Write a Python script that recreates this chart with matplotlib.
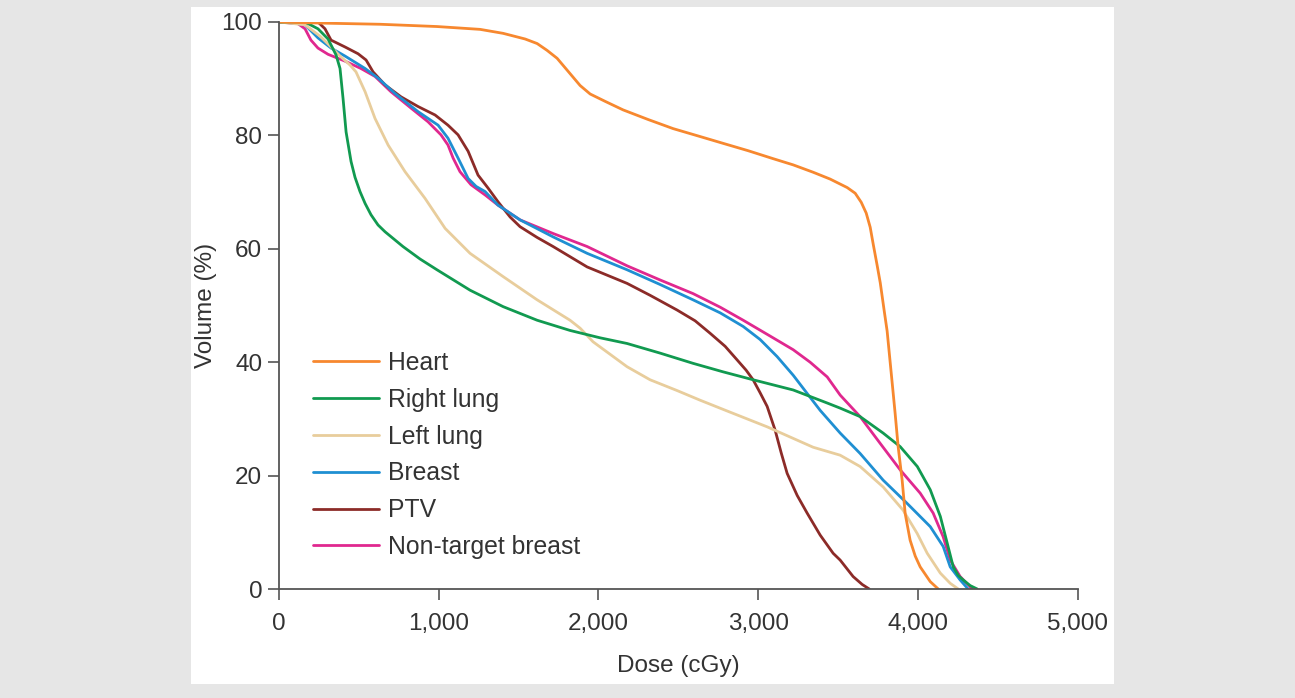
import numpy as np
import matplotlib
matplotlib.use('Agg')
import matplotlib.pyplot as plt
from matplotlib.patches import Rectangle

plt.rcParams['font.family'] = ['Liberation Sans', 'DejaVu Sans']

# dose (cGy) / volume (%) points
heart_dose = [0, 276, 633, 989, 1259, 1403, 1541, 1616, 1678, 1741, 1822, 1885, 1948, 2042, 2154,
              2311, 2467, 2624, 2780, 2937, 3093, 3219, 3344, 3450, 3557, 3607, 3645, 3676, 3701,
              3720, 3745, 3764, 3789, 3807, 3826, 3845, 3857, 3876, 3901, 3920, 3951, 3983, 4014,
              4077, 4127]
heart_vol = [100, 99.8, 99.6, 99.2, 98.7, 98.0, 97.0, 96.2, 95.0, 93.6, 90.9, 88.8, 87.3, 86.0, 84.5,
             82.8, 81.2, 79.9, 78.6, 77.3, 75.9, 74.8, 73.5, 72.3, 70.8, 69.8, 68.2, 66.3, 63.8,
             60.8, 57.0, 54.0, 49.0, 45.5, 40.0, 34.5, 31.0, 25.1, 19.2, 13.3, 8.6, 5.8, 3.9,
             1.3, 0]

rlung_dose = [0, 163, 244, 307, 357, 382, 401, 420, 451, 476, 507, 539, 576, 620, 664, 776, 883,
              989, 1196, 1403, 1616, 1822, 2010, 2179, 2386, 2592, 2780, 2968, 3219, 3432, 3513,
              3638, 3782, 3889, 3996, 4077, 4140, 4183, 4221, 4252, 4283, 4327, 4371]
rlung_vol = [100, 100, 98.8, 97.0, 94.2, 91.8, 86.5, 80.6, 75.4, 72.6, 70.1, 68.0, 66.0, 64.2, 63.0,
             60.4, 58.2, 56.3, 52.7, 49.8, 47.4, 45.6, 44.3, 43.3, 41.6, 39.8, 38.3, 36.9, 35.1,
             32.8, 31.9, 30.4, 27.5, 25.1, 21.6, 17.5, 12.8, 8.1, 3.9, 2.4, 1.6, 0.6, 0]

llung_dose = [0, 163, 257, 326, 382, 445, 482, 539, 601, 683, 789, 914, 1040, 1196, 1403, 1616,
              1822, 1885, 1966, 2179, 2323, 2492, 2636, 2805, 3056, 3344, 3513, 3638, 3782, 3907,
              3995, 4058, 4140, 4202, 4252]
llung_vol = [100, 99.5, 97.5, 95.6, 94.0, 92.4, 91.2, 87.7, 83.0, 78.3, 73.6, 68.9, 63.6, 59.2,
             55.1, 51.0, 47.4, 46.0, 43.6, 39.2, 36.9, 35.0, 33.3, 31.4, 28.6, 25.0, 23.6, 21.6,
             18.0, 13.9, 9.8, 6.3, 2.8, 1.0, 0]

breast_dose = [0, 100, 163, 244, 326, 413, 539, 620, 726, 870, 996, 1058, 1121, 1184, 1234, 1290,
               1371, 1509, 1716, 1929, 2179, 2386, 2592, 2762, 2906, 3012, 3118, 3219, 3306, 3388,
               3513, 3638, 3782, 3932, 4077, 4158, 4202, 4264, 4314]
breast_vol = [100, 99.8, 99.5, 97.2, 95.4, 94.0, 91.8, 90.1, 87.4, 84.2, 81.8, 79.5, 76.0, 72.4,
              71.0, 70.1, 67.7, 65.1, 62.1, 59.2, 56.3, 53.7, 51.0, 48.7, 46.3, 44.0, 41.0, 37.7,
              34.5, 31.5, 27.5, 23.9, 19.2, 15.1, 11.0, 7.5, 3.9, 1.6, 0]

ptv_dose = [0, 131, 244, 288, 326, 413, 495, 545, 589, 664, 764, 870, 977, 1058, 1121, 1184, 1246,
            1309, 1371, 1447, 1509, 1616, 1716, 1929, 2179, 2323, 2492, 2605, 2699, 2793, 2868,
            2924, 2968, 3012, 3056, 3106, 3144, 3181, 3244, 3306, 3388, 3469, 3513, 3594, 3651, 3695]
ptv_vol = [100, 100, 100, 98.8, 96.8, 95.6, 94.4, 93.3, 91.2, 88.9, 86.8, 85.1, 83.6, 81.8, 80.1,
           77.2, 73.0, 70.7, 68.3, 65.6, 63.9, 62.0, 60.4, 56.8, 53.9, 51.8, 49.2, 47.3, 45.1,
           42.8, 40.4, 38.6, 36.9, 34.6, 32.2, 28.0, 24.0, 20.4, 16.5, 13.4, 9.5, 6.3, 5.1, 2.2,
           0.8, 0]

ntb_dose = [0, 119, 163, 200, 244, 307, 413, 513, 601, 701, 827, 933, 1014, 1058, 1090, 1133,
            1202, 1290, 1371, 1509, 1716, 1929, 2179, 2386, 2592, 2762, 2906, 3075, 3219, 3325,
            3432, 3513, 3638, 3763, 3889, 4014, 4095, 4158, 4202, 4264, 4340]
ntb_vol = [100, 99.7, 98.8, 96.8, 95.4, 94.3, 93.1, 91.8, 90.4, 87.7, 84.8, 82.4, 80.1, 78.3, 76.0,
           73.6, 71.3, 69.5, 67.7, 65.1, 62.7, 60.4, 57.0, 54.5, 52.1, 49.7, 47.4, 44.6, 42.2,
           40.0, 37.4, 34.2, 30.4, 25.7, 21.0, 16.9, 13.4, 9.2, 5.1, 2.2, 0]

labels = ['Heart', 'Right lung', 'Left lung', 'Breast', 'PTV', 'Non-target breast']
colors = ['#f7882f', '#119a50', '#e8cd9c', '#1f8fd2', '#8c2b28', '#e0288f']
series = [(heart_dose, heart_vol), (rlung_dose, rlung_vol), (llung_dose, llung_vol),
          (breast_dose, breast_vol), (ptv_dose, ptv_vol), (ntb_dose, ntb_vol)]
xticks = [0, 1000, 2000, 3000, 4000, 5000]
yticks = [0, 20, 40, 60, 80, 100]

W, H = 1295, 698
fig = plt.figure(figsize=(W / 100, H / 100), dpi=100)
fig.patch.set_facecolor('#e6e6e6')
# white card behind the chart
card = Rectangle((191 / W, (H - 684) / H), (1114 - 191) / W, (684 - 7) / H,
                 transform=fig.transFigure, facecolor='white', edgecolor='none', zorder=-10)
fig.patches.append(card)

ax = fig.add_axes([279 / W, (H - 589) / H, (1077.7 - 279) / W, (589 - 22) / H])
ax.set_zorder(5)
ax.set_facecolor('none')

# draw in reverse so heart ends up on top like the original
for (d, v), lab, c in list(zip(series, labels, colors))[::-1]:
    ax.plot(d, v, color=c, lw=2.0, label=lab, solid_capstyle='round', solid_joinstyle='round')

ax.set_xlim(0, 5000)
ax.set_ylim(0, 100)
ax.set_xticks(xticks)
ax.set_xticklabels([f'{t:,}' for t in xticks])
ax.set_yticks(yticks)

txt = '#333333'
for s in ['top', 'right']:
    ax.spines[s].set_visible(False)
for s in ['left', 'bottom']:
    ax.spines[s].set_color('#555555')
    ax.spines[s].set_linewidth(1.3)
ax.tick_params(axis='both', direction='out', length=8, width=1.2, color='#555555',
               labelsize=17.5, labelcolor=txt)
ax.tick_params(axis='x', pad=9.5)
ax.tick_params(axis='y', pad=4)

ax.set_xlabel('Dose (cGy)', fontsize=17.5, color=txt, labelpad=14)
ax.set_ylabel('Volume (%)', fontsize=17.5, color=txt, labelpad=3)

handles, labs = ax.get_legend_handles_labels()
order = [labs.index(l) for l in labels]
leg = ax.legend([handles[i] for i in order], labels, loc='upper left',
                bbox_to_anchor=(0.0426, 0.42), frameon=False, fontsize=17.8,
                handlelength=2.65, handletextpad=0.4, labelspacing=0.52,
                borderpad=0, borderaxespad=0)
for t in leg.get_texts():
    t.set_color(txt)

fig.savefig('out.png', dpi=100, facecolor=fig.get_facecolor())
